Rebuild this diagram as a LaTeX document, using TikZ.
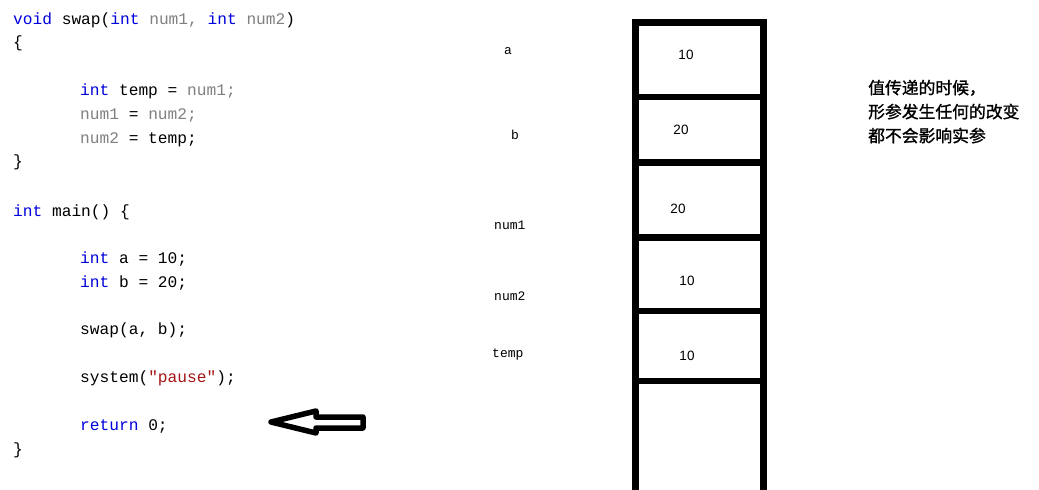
\documentclass[tikz,border=0pt]{standalone}
\usepackage{fontspec}
\setmainfont{Liberation Sans}
\newfontfamily\codefont{Liberation Mono}
\newfontfamily\cjk[FakeBold=1.2]{Noto Sans CJK SC}
\definecolor{kw}{RGB}{0,0,220}
\definecolor{prm}{RGB}{128,128,128}
\definecolor{strc}{RGB}{163,21,21}
\begin{document}
\begin{tikzpicture}[x=1pt,y=-1pt,
  codeline/.style={anchor=base west,inner sep=0pt,font=\codefont\fontsize{16.2}{18}\selectfont},
  varlabel/.style={anchor=base west,inner sep=0pt,font=\codefont\fontsize{13}{15}\selectfont},
  cellval/.style={inner sep=0pt,font=\fontsize{13.5}{15}\selectfont},
  note/.style={anchor=base west,inner sep=0pt,font=\cjk\fontsize{16.8}{20}\selectfont},
  stackline/.style={line width=7pt,black},
  divline/.style={line width=6.5pt,black}]
\useasboundingbox (0,0) rectangle (1039,490);
\fill[white] (0,0) rectangle (1039,490);
% code
\node[codeline] (c1) at (13,24) {\textcolor{kw}{void} swap(\textcolor{kw}{int} \textcolor{prm}{num1,} \textcolor{kw}{int} \textcolor{prm}{num2})};
\node[codeline] (c2) at (13,47) {\{};
\node[codeline] (c3) at (80,95) {\textcolor{kw}{int} temp = \textcolor{prm}{num1;}};
\node[codeline] (c4) at (80,119) {\textcolor{prm}{num1} = \textcolor{prm}{num2;}};
\node[codeline] (c5) at (80,143) {\textcolor{prm}{num2} = temp;};
\node[codeline] (c6) at (13,166) {\}};
\node[codeline] (c7) at (13,216) {\textcolor{kw}{int} main() \{};
\node[codeline] (c8) at (80,263) {\textcolor{kw}{int} a = 10;};
\node[codeline] (c9) at (80,287) {\textcolor{kw}{int} b = 20;};
\node[codeline] (c10) at (80,334) {swap(a, b);};
\node[codeline] (c11) at (80,382) {system(\textcolor{strc}{"pause"});};
\node[codeline] (c12) at (80,430) {\textcolor{kw}{return} 0;};
\node[codeline] (c13) at (13,454) {\}};
% hollow arrow
\draw[line width=5.5pt,line join=round,fill=white] (271,422) -- (316,411) -- (316,417) -- (363,417) -- (363,428) -- (316,428) -- (316,433) -- cycle;
% stack
\draw[stackline] (635,490) -- (635,22) -- (763,22) -- (763,490);
\draw[divline] (635,97) -- (763,97);
\draw[divline] (635,162.5) -- (763,162.5);
\draw[divline] (635,237.5) -- (760,237.5);
\draw[divline] (635,311) -- (765,311);
\draw[divline] (635,381) -- (760,381);
% cell values
\node[cellval] (v1) at (686,55) {10};
\node[cellval] (v2) at (681,130) {20};
\node[cellval] (v3) at (678,209) {20};
\node[cellval] (v4) at (687,281) {10};
\node[cellval] (v5) at (687,356) {10};
% variable labels
\node[varlabel] (la) at (504,54) {a};
\node[varlabel] (lb) at (511,139) {b};
\node[varlabel] (ln1) at (494,229) {num1};
\node[varlabel] (ln2) at (494,300) {num2};
\node[varlabel] (lt) at (492,357) {temp};
% note
\node[note] (n1) at (868,94) {值传递的时候，};
\node[note] (n2) at (868,118) {形参发生任何的改变};
\node[note] (n3) at (868,142) {都不会影响实参};
\end{tikzpicture}
\end{document}
